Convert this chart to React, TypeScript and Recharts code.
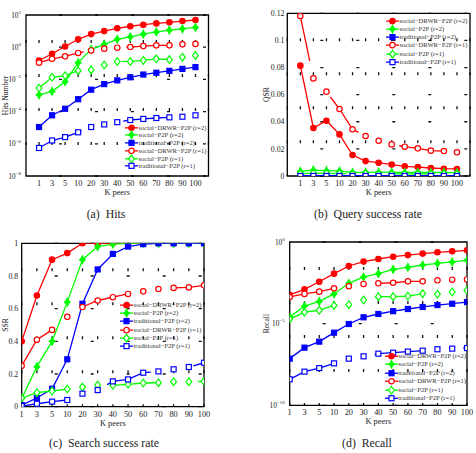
import React from "react";
import { CartesianGrid, Legend, Line, LineChart, ReferenceArea, XAxis, YAxis } from "recharts";

const serif = "'Liberation Serif', 'Times New Roman', serif";
const ink = "#222";

const kPeers = ["1", "3", "5", "10", "20", "30", "40", "50", "60", "70", "80", "90", "100"];
const xTicks = [1, 2, 3, 4, 5, 6, 7, 8, 9, 10, 11, 12, 13];

// (a) hits number
const hitsDrwr2 = [0.15, 0.39, 1.1, 3.1, 6.5, 10, 15, 20, 25, 30, 35, 42, 49];
const hitsSocial2 = [0.0011, 0.0018, 0.0072, 0.11, 0.74, 1.5, 3.1, 4.4, 6.5, 8.9, 11.5, 13.8, 17];
const hitsTrad2 = [1.1e-5, 5.9e-5, 1.5e-4, 5.9e-4, 2.3e-3, 5.1e-3, 8.7e-3, 1.35e-2, 2.0e-2, 2.6e-2, 3.4e-2, 4.5e-2, 5.8e-2];
const hitsDrwr1 = [0.11, 0.19, 0.27, 0.44, 0.63, 0.81, 0.93, 1.02, 1.17, 1.3, 1.3, 1.5, 1.6];
const hitsSocial1 = [2.9e-3, 1.35e-2, 1.7e-2, 3.5e-2, 3.9e-2, 7.9e-2, 0.13, 0.13, 0.15, 0.19, 0.17, 0.24, 0.31];
const hitsTrad1 = [5.5e-7, 1.6e-6, 2.6e-6, 5.2e-6, 1.1e-5, 1.6e-5, 2.2e-5, 3.0e-5, 3.5e-5, 4.0e-5, 4.4e-5, 4.8e-5, 5.9e-5];

// (b) query success rate
const qsrDrwr2 = [0.0814, 0.0354, 0.0408, 0.0307, 0.0155, 0.011, 0.0098, 0.0084, 0.0071, 0.0066, 0.0059, 0.0054, 0.0052];
const qsrSocial2 = [0.0034, 0.0044, 0.0039, 0.0036, 0.0027, 0.0027, 0.0028, 0.0027, 0.0026, 0.0027, 0.0026, 0.0026, 0.0025];
const qsrTrad2 = [0.0002, 0.0002, 0.0002, 0.0002, 0.0002, 0.0002, 0.0002, 0.0002, 0.0002, 0.0002, 0.0002, 0.0002, 0.0002];
const qsrDrwr1 = [0.118, 0.072, 0.0622, 0.0494, 0.0344, 0.0295, 0.026, 0.0233, 0.0216, 0.0204, 0.0187, 0.0184, 0.0175];
const qsrSocial1 = [0.0017, 0.0021, 0.0019, 0.0018, 0.0016, 0.0017, 0.0016, 0.0016, 0.0016, 0.0015, 0.0016, 0.0015, 0.0015];
const qsrTrad1 = [0.00005, 0.00005, 0.00005, 0.00005, 0.00005, 0.00005, 0.00005, 0.00005, 0.00005, 0.00005, 0.00005, 0.00005, 0.00005];

// (c) search success rate
const ssrDrwr2 = [0.4, 0.68, 0.9, 0.94, 1, 1, 1, 1, 1, 1, 1, 1, 1];
const ssrSocial2 = [0.05, 0.245, 0.4, 0.64, 0.9, 0.98, 0.995, 1, 1, 1, 1, 1, 1];
const ssrTrad2 = [0.01, 0.053, 0.11, 0.29, 0.63, 0.84, 0.935, 0.98, 0.995, 1, 1, 1, 1];
const ssrDrwr1 = [0.25, 0.41, 0.47, 0.55, 0.61, 0.65, 0.67, 0.69, 0.706, 0.72, 0.727, 0.73, 0.743];
const ssrSocial1 = [0.053, 0.086, 0.096, 0.108, 0.12, 0.133, 0.131, 0.137, 0.145, 0.147, 0.153, 0.153, 0.155];
const ssrTrad1 = [0.004, 0.018, 0.031, 0.041, 0.08, 0.102, 0.155, 0.167, 0.208, 0.216, 0.229, 0.243, 0.269];

// (d) recall
const recDrwr2 = [5.8e-4, 1.26e-3, 3.7e-3, 1.15e-2, 3.4e-2, 6.3e-2, 9.1e-2, 0.126, 0.158, 0.195, 0.234, 0.27, 0.31];
const recSocial2 = [2.6e-5, 1.2e-4, 2.3e-4, 6.6e-4, 2.95e-3, 7.2e-3, 1.15e-2, 2.1e-2, 2.8e-2, 3.9e-2, 4.9e-2, 6.0e-2, 7.6e-2];
const recTrad2 = [7.2e-8, 3.4e-7, 7.9e-7, 2.8e-6, 9.5e-6, 2.45e-5, 3.9e-5, 5.8e-5, 7.9e-5, 1.05e-4, 1.38e-4, 1.66e-4, 2.1e-4];
const recDrwr1 = [4.3e-4, 6.6e-4, 9.1e-4, 1.45e-3, 1.95e-3, 2.7e-3, 2.95e-3, 3.2e-3, 3.9e-3, 3.9e-3, 4.5e-3, 4.9e-3, 5.1e-3];
const recSocial1 = [1.9e-5, 5.1e-5, 6.6e-5, 1.3e-4, 1.45e-4, 2.8e-4, 4.5e-4, 4.5e-4, 4.9e-4, 6.9e-4, 6.3e-4, 8.7e-4, 1.1e-3];
const recTrad1 = [3.9e-9, 1.15e-8, 1.9e-8, 3.7e-8, 7.2e-8, 1.0e-7, 1.45e-7, 1.66e-7, 1.95e-7, 2.2e-7, 2.7e-7, 2.95e-7, 3.2e-7];

type Shape = "circle" | "star" | "square";
type Series = { key: string; name: string; color: string; shape: Shape; filled: boolean };

const series: Series[] = [
  { key: "drwr2", name: "social−DRWR−P2P (r=2)", color: "#ff0000", shape: "circle", filled: true },
  { key: "social2", name: "social−P2P (r=2)", color: "#00ff00", shape: "star", filled: true },
  { key: "trad2", name: "traditional−P2P (r=2)", color: "#0000ff", shape: "square", filled: true },
  { key: "drwr1", name: "social−DRWR−P2P (r=1)", color: "#ff0000", shape: "circle", filled: false },
  { key: "social1", name: "social−P2P (r=1)", color: "#00ff00", shape: "star", filled: false },
  { key: "trad1", name: "traditional−P2P (r=1)", color: "#0000ff", shape: "square", filled: false },
];

type Panel = {
  id: string;
  x: number;
  y: number;
  plot: { top: number; bottom: number; left: number; right: number };
  xDomain: [number, number];
  log: boolean;
  yDomain: [number, number];
  yTicks: number[];
  tickGap: number;
  yTitle: string;
  yTitleX: number;
  values: number[][];
  legend: { left: number; top: number; row: number };
  caption: string;
  captionX: number;
  captionY: number;
};

const panels: Panel[] = [
  {
    id: "a", x: 0, y: 0,
    plot: { top: 15, bottom: 176, left: 26, right: 208.5 },
    xDomain: [0, 14], log: true, yDomain: [1e-8, 100], yTicks: [1e-8, 1e-6, 1e-4, 1e-2, 1, 100],
    tickGap: 5, yTitle: "Hits Number", yTitleX: 7.5,
    values: [hitsDrwr2, hitsSocial2, hitsTrad2, hitsDrwr1, hitsSocial1, hitsTrad1],
    legend: { left: 125, top: 123.8, row: 7.7 },
    caption: "(a)  Hits", captionX: 106, captionY: 213.5,
  },
  {
    id: "b", x: 238, y: 0,
    plot: { top: 13.3, bottom: 176, left: 49.3, right: 232 },
    xDomain: [0, 14], log: false, yDomain: [0, 0.12], yTicks: [0, 0.02, 0.04, 0.06, 0.08, 0.1, 0.12],
    tickGap: 2.8, yTitle: "QSR", yTitleX: 31.5,
    values: [qsrDrwr2, qsrSocial2, qsrTrad2, qsrDrwr1, qsrSocial1, qsrTrad1],
    legend: { left: 148, top: 16.6, row: 8.25 },
    caption: "(b)  Query success rate", captionX: 130, captionY: 213.5,
  },
  {
    id: "c", x: 0, y: 226,
    plot: { top: 17.3, bottom: 180.7, left: 21.7, right: 204 },
    xDomain: [1, 13], log: false, yDomain: [0, 1], yTicks: [0, 0.2, 0.4, 0.6, 0.8, 1],
    tickGap: 3.5, yTitle: "SSR", yTitleX: 7.5,
    values: [ssrDrwr2, ssrSocial2, ssrTrad2, ssrDrwr1, ssrSocial1, ssrTrad1],
    legend: { left: 120, top: 74.9, row: 8.3 },
    caption: "(c)  Search success rate", captionX: 104, captionY: 217.3,
  },
  {
    id: "d", x: 238, y: 226,
    plot: { top: 16, bottom: 179.3, left: 51.7, right: 229 },
    xDomain: [1, 13], log: true, yDomain: [1e-10, 1], yTicks: [1e-10, 1e-5, 1],
    tickGap: 5, yTitle: "Recall", yTitleX: 31,
    values: [recDrwr2, recSocial2, recTrad2, recDrwr1, recSocial1, recTrad1],
    legend: { left: 146.7, top: 125.8, row: 8.5 },
    caption: "(d)  Recall", captionX: 129, captionY: 217.3,
  },
];

function Marker({ cx, cy, s }: { cx?: number; cy?: number; s: Series }) {
  if (cx == null || cy == null || isNaN(cx) || isNaN(cy)) return null;
  const fill = s.filled ? s.color : "#fff";
  const sw = 1.2;
  if (s.shape === "circle") {
    return <circle cx={cx} cy={cy} r={2.7} fill={fill} stroke={s.color} strokeWidth={sw} />;
  }
  if (s.shape === "square") {
    return <rect x={cx - 2.5} y={cy - 2.5} width={5} height={5} fill={fill} stroke={s.color} strokeWidth={sw} />;
  }
  const o = 3.8;
  const w = 2.9;
  const n = 1.3;
  const d = s.filled
    ? `M${cx},${cy - o}L${cx + n},${cy - n}L${cx + w},${cy}L${cx + n},${cy + n}L${cx},${cy + o}L${cx - n},${cy + n}L${cx - w},${cy}L${cx - n},${cy - n}Z`
    : `M${cx},${cy - o}L${cx + w},${cy}L${cx},${cy + o}L${cx - w},${cy}Z`;
  return <path d={d} fill={fill} stroke={s.color} strokeWidth={sw} />;
}

function PowTick({ x, y, payload }: any) {
  const e = Math.round(Math.log10(payload.value));
  return (
    <text x={x} y={y} dy={2.6} textAnchor="end" fontSize={7.3} fontFamily={serif} fill={ink}>
      10<tspan dy={-3.8} fontSize={5}>{String(e).replace("-", "−")}</tspan>
    </text>
  );
}

function NumTick({ x, y, payload }: any) {
  return (
    <text x={x} y={y} dy={2.7} textAnchor="end" fontSize={7.8} fontFamily={serif} fill={ink}>
      {String(payload.value)}
    </text>
  );
}

function KTick({ x, y, payload }: any) {
  return (
    <text x={x} y={y + 10} textAnchor="middle" fontSize={8.3} fontFamily={serif} fill={ink}>
      {kPeers[payload.value - 1]}
    </text>
  );
}

function Key({ row }: { row: number }) {
  return (
    <div style={{ fontFamily: serif, fontSize: 6.6, color: "#333" }}>
      {series.map((s) => (
        <div key={s.key} style={{ display: "flex", alignItems: "center", height: row, whiteSpace: "nowrap" }}>
          <svg width={13} height={row} style={{ overflow: "visible", flex: "none" }}>
            <line x1={0} x2={13} y1={row / 2} y2={row / 2} stroke={s.color} strokeWidth={1.3} />
            <Marker cx={6.5} cy={row / 2} s={s} />
          </svg>
          <span style={{ marginLeft: 0.5, lineHeight: `${row}px` }}>{s.name}</span>
        </div>
      ))}
    </div>
  );
}

function Chart({ p }: { p: Panel }) {
  const rows = kPeers.map((k, i) => {
    const row: Record<string, number | string> = { i: i + 1, k };
    series.forEach((s, j) => {
      row[s.key] = p.values[j][i];
    });
    return row;
  });
  const W = 238;
  const H = 226;
  const xh = 20;
  return (
    <div style={{ position: "absolute", left: p.x, top: p.y, width: W, height: H }}>
      <LineChart
        width={W}
        height={H}
        data={rows}
        margin={{ top: p.plot.top, right: W - p.plot.right, bottom: H - p.plot.bottom - xh, left: 0 }}
      >
        <CartesianGrid horizontal={false} stroke="#111" strokeWidth={1.3} strokeDasharray="0 25 3 6" />
        <CartesianGrid vertical={false} stroke="#111" strokeWidth={1.3} strokeDasharray="0 33 3 0" />
        <XAxis
          dataKey="i"
          type="number"
          domain={p.xDomain}
          ticks={xTicks}
          interval={0}
          allowDataOverflow
          axisLine={false}
          tickLine={false}
          tickSize={0}
          tickMargin={0}
          height={xh}
          tick={KTick}
          label={{ value: "K peers", position: "insideBottom", offset: 1, fontSize: 8.3, fill: ink, fontFamily: serif }}
        />
        <YAxis
          type="number"
          scale={p.log ? "log" : "linear"}
          domain={p.yDomain}
          ticks={p.yTicks}
          interval={0}
          allowDataOverflow
          width={p.plot.left}
          axisLine={false}
          tickLine={false}
          tickSize={0}
          tickMargin={p.tickGap}
          tick={p.log ? PowTick : NumTick}
          label={{
            value: p.yTitle,
            content: (props: any) => {
              const vb = props.viewBox;
              const cx = p.yTitleX;
              const cy = vb.y + vb.height / 2;
              return (
                <text x={cx} y={cy} transform={`rotate(-90 ${cx} ${cy})`} textAnchor="middle" fontSize={7.6} fontFamily={serif} fill={ink}>
                  {p.yTitle}
                </text>
              );
            },
          }}
        />
        <ReferenceArea
          x1={p.xDomain[0]}
          x2={p.xDomain[1]}
          y1={p.yDomain[0]}
          y2={p.yDomain[1]}
          fill="none"
          fillOpacity={0}
          stroke="#000"
          strokeWidth={1.3}
          ifOverflow="visible"
        />
        {series.map((s) => (
          <Line
            key={s.key}
            dataKey={s.key}
            name={s.name}
            type="linear"
            stroke={s.color}
            strokeWidth={1.3}
            strokeDasharray={s.filled ? undefined : "46 43"}
            dot={(props: any) => <Marker key={`${s.key}-${props.index}`} cx={props.cx} cy={props.cy} s={s} />}
            activeDot={false}
            isAnimationActive={false}
          />
        ))}
        <Legend
          layout="vertical"
          align="center"
          verticalAlign="middle"
          wrapperStyle={{ left: p.legend.left, top: p.legend.top, width: 86, right: "auto", bottom: "auto" }}
          content={() => <Key row={p.legend.row} />}
        />
      </LineChart>
      <div
        style={{
          position: "absolute",
          left: p.captionX - 90,
          width: 180,
          top: p.captionY - 7,
          height: 14,
          lineHeight: "14px",
          textAlign: "center",
          fontFamily: serif,
          fontSize: 11.8,
          color: ink,
          whiteSpace: "pre",
        }}
      >
        {p.caption}
      </div>
    </div>
  );
}

export default function App() {
  return (
    <div style={{ position: "absolute", left: 0, top: 0, width: 476, height: 453, background: "#fff", overflow: "hidden" }}>
      {panels.map((p) => (
        <Chart key={p.id} p={p} />
      ))}
    </div>
  );
}
